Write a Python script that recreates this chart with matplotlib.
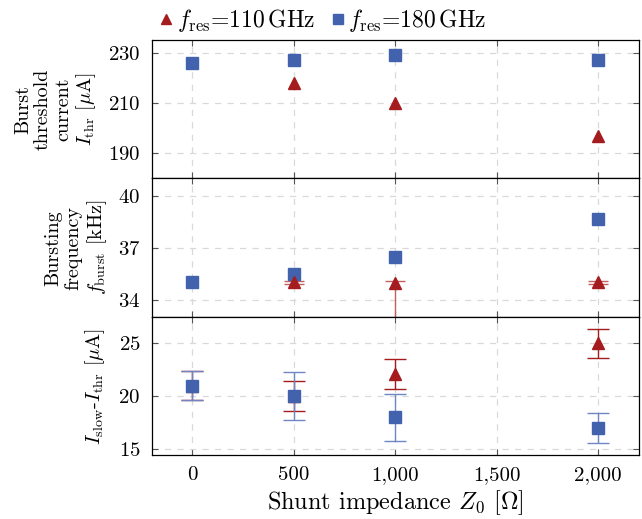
import matplotlib
matplotlib.use("Agg")
import matplotlib.pyplot as plt
from matplotlib.ticker import FuncFormatter

plt.rcParams['font.family'] = ['cmr10', 'DejaVu Serif']
plt.rcParams['mathtext.fontset'] = 'cm'
plt.rcParams['axes.formatter.use_mathtext'] = True

# Data
z0 = [0, 500, 1000, 2000]
z0_red = [500, 1000, 2000]

thr_110 = [218, 210, 197]
thr_180 = [226, 227, 229, 227]

fb_110 = [35.0, 34.95, 35.0]
fb_110_err_lo = [0.1, 3.0, 0.1]
fb_110_err_hi = [0.1, 0.15, 0.1]
fb_180 = [35.0, 35.5, 36.45, 38.67]

slow_110_x = [0, 500, 1000, 2000]
slow_110 = [21.0, 20.0, 22.1, 25.0]
slow_110_err = [1.4, 1.4, 1.4, 1.4]
slow_180 = [21.0, 20.0, 18.0, 17.0]
slow_180_err = [1.4, 2.25, 2.2, 1.4]

xticks = [0, 500, 1000, 1500, 2000]

red = '#a51c1f'
blue = '#4262ad'
UA = '[$\\mu$A]'

fig = plt.figure(figsize=(6.42, 5.19), dpi=100)
left, right = 0.236, 0.995
top, bottom = 0.923, 0.1225
h = (top - bottom) / 3
axes = [fig.add_axes([left, top - (i + 1) * h, right - left, h]) for i in range(3)]

for ax in axes:
    ax.set_xlim(-200, 2200)
    ax.set_xticks(xticks)
    ax.grid(True, linestyle=(0, (5, 5)), color='#d9d9d9', linewidth=0.9)
    ax.set_axisbelow(True)
    ax.tick_params(direction='in', top=True, right=True, length=4, color='#555555',
                   labelsize=15, pad=8)
    for s in ax.spines.values():
        s.set_linewidth(0.9)

# Top panel
ax = axes[0]
ax.plot(z0_red, thr_110, '^', color=red, markersize=8.5, linestyle='none')
ax.plot(z0, thr_180, 's', color=blue, markersize=8.5, linestyle='none')
ax.set_ylim(180, 235)
ax.set_yticks([190, 210, 230])
ax.tick_params(labelbottom=False)
ax.set_ylabel('Burst\nthreshold\ncurrent\n$I_\\mathrm{thr}$ ' + UA, fontsize=14.5, linespacing=1.15)
ax.yaxis.set_label_coords(-0.109, 0.5)

# Middle panel
ax = axes[1]
ax.errorbar(z0_red, fb_110, yerr=[fb_110_err_lo, fb_110_err_hi], fmt='^', color=red,
            markersize=8.5, capsize=7, elinewidth=1, ecolor='#c36060')
ax.plot(z0, fb_180, 's', color=blue, markersize=8.5, linestyle='none')
ax.set_ylim(33, 41)
ax.set_yticks([34, 37, 40])
ax.tick_params(labelbottom=False)
ax.set_ylabel('Bursting\nfrequency\n$f_\\mathrm{burst}$ [kHz]', fontsize=14.5, linespacing=1.15)
ax.yaxis.set_label_coords(-0.087, 0.5)

# Bottom panel
ax = axes[2]
ax.errorbar(slow_110_x, slow_110, yerr=slow_110_err, fmt='^', color=red,
            markersize=8.5, capsize=8, elinewidth=1)
ax.errorbar(z0, slow_180, yerr=slow_180_err, fmt='s', color=blue,
            markersize=8.5, capsize=8, elinewidth=1, ecolor='#6f86c4')
ax.set_ylim(14.4, 27.5)
ax.set_yticks([15, 20, 25])
ax.xaxis.set_major_formatter(FuncFormatter(lambda v, p: f'{int(v):,}'))
ax.set_ylabel('$I_\\mathrm{slow}$-$I_\\mathrm{thr}$ ' + UA, fontsize=14.5)
ax.yaxis.set_label_coords(-0.091, 0.5)
ax.set_xlabel('Shunt impedance $Z_0$ $[\\Omega]$', fontsize=17.5, labelpad=3)

# Legend
h1, = axes[0].plot([], [], '^', color=red, markersize=7)
h2, = axes[0].plot([], [], 's', color=blue, markersize=7)
fig.legend([h1, h2], ['$f_\\mathrm{res}$=110$\\,$GHz', '$f_\\mathrm{res}$=180$\\,$GHz'],
           loc='center', bbox_to_anchor=(0.503, 0.96), ncol=2, frameon=False,
           fontsize=17, handletextpad=0.15, columnspacing=0.65, handlelength=0.6)

fig.savefig('out.png', dpi=100)
